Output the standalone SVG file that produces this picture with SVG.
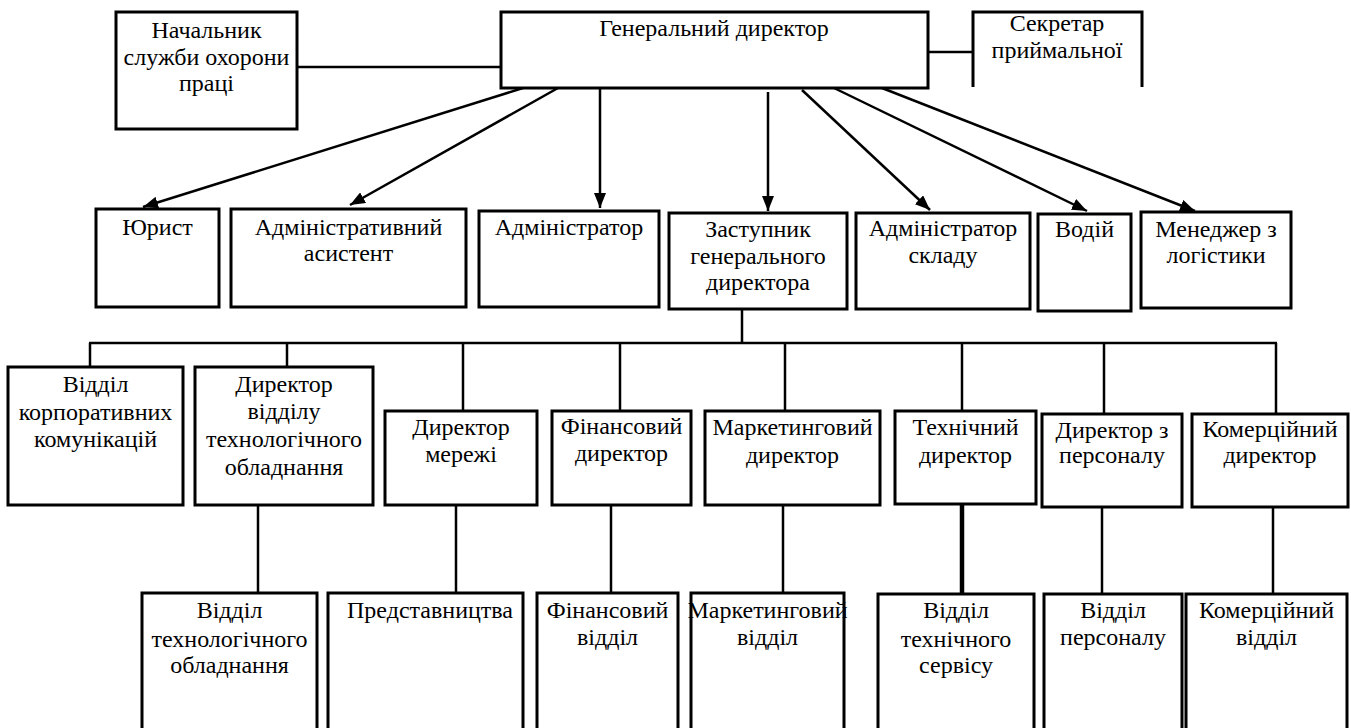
<svg xmlns="http://www.w3.org/2000/svg" width="1351" height="728" viewBox="0 0 1351 728">
<style>
.b{fill:#fff;stroke:#000;stroke-width:3}
.o{fill:none;stroke:#000;stroke-width:3}
.t{font-family:'Liberation Serif','Times New Roman',serif;font-size:24px;fill:#000;text-anchor:middle}
.c{stroke:#000;stroke-width:2.5;fill:none}
.a{stroke:#000;stroke-width:2.5;fill:none;marker-end:url(#ah)}
</style>
<defs>
<marker id="ah" markerUnits="userSpaceOnUse" markerWidth="15" markerHeight="12" refX="15" refY="6" orient="auto">
<path d="M0,0 L15,6 L0,12 z" fill="#000"/>
</marker>
</defs>
<rect width="1351" height="728" fill="#fff"/>
<g id="connectors">
<line class="c" x1="298" y1="67" x2="501" y2="67"/>
<line class="c" x1="928" y1="52" x2="973" y2="52"/>
<line class="a" x1="523" y1="88" x2="143" y2="207"/>
<line class="a" x1="558" y1="88" x2="350" y2="205"/>
<line class="a" x1="600" y1="88" x2="600" y2="208"/>
<line class="a" x1="768" y1="92" x2="768" y2="211"/>
<line class="a" x1="802" y1="90" x2="930" y2="210"/>
<line class="a" x1="834" y1="88" x2="1087" y2="211"/>
<line class="a" x1="882" y1="88" x2="1195" y2="211"/>
<line class="c" x1="742" y1="309" x2="742" y2="343"/>
<line class="c" x1="89" y1="343" x2="1277" y2="343"/>
<line class="c" x1="90" y1="343" x2="90" y2="367"/>
<line class="c" x1="287" y1="343" x2="287" y2="367"/>
<line class="c" x1="463" y1="343" x2="463" y2="411"/>
<line class="c" x1="620" y1="343" x2="620" y2="411"/>
<line class="c" x1="785" y1="343" x2="785" y2="411"/>
<line class="c" x1="962" y1="343" x2="962" y2="411"/>
<line class="c" x1="1104" y1="343" x2="1104" y2="414"/>
<line class="c" x1="1276" y1="343" x2="1276" y2="414"/>
<line class="c" x1="258" y1="505" x2="258" y2="593"/>
<line class="c" x1="456" y1="505" x2="456" y2="593"/>
<line class="c" x1="611" y1="505" x2="611" y2="593"/>
<line class="c" x1="783" y1="505" x2="783" y2="593"/>
<line class="c" stroke-width="4.5" style="stroke-width:4.5" x1="962" y1="504" x2="962" y2="594"/>
<line class="c" x1="1102" y1="505" x2="1102" y2="594"/>
<line class="c" x1="1273" y1="507" x2="1273" y2="594"/>
</g>
<g id="n-okhorona"><rect class="b" x="116" y="12" width="181" height="117"/>
<text class="t" x="206.5" y="38">Начальник</text><text class="t" x="206.5" y="65">служби охорони</text><text class="t" x="206.5" y="91">праці</text></g>
<g id="n-gendir"><rect class="b" x="501" y="12" width="427" height="76"/>
<text class="t" x="714" y="36">Генеральний директор</text></g>
<g id="n-sekretar"><path class="o" d="M973,87 V12 H1142 V87"/>
<text class="t" x="1057" y="31">Секретар</text><text class="t" x="1057" y="58">приймальної</text></g>
<g id="n-yurist"><rect class="b" x="96" y="209" width="123" height="98"/>
<text class="t" x="157.5" y="235">Юрист</text></g>
<g id="n-adm-asyst"><rect class="b" x="231" y="209" width="235" height="98"/>
<text class="t" x="348.5" y="235">Адміністративний</text><text class="t" x="348.5" y="261">асистент</text></g>
<g id="n-admin"><rect class="b" x="479" y="211" width="180" height="96"/>
<text class="t" x="569" y="235">Адміністратор</text></g>
<g id="n-zastupnyk"><rect class="b" x="669" y="213" width="178" height="96"/>
<text class="t" x="758" y="237">Заступник</text><text class="t" x="758" y="264">генерального</text><text class="t" x="758" y="290">директора</text></g>
<g id="n-adm-sklad"><rect class="b" x="856" y="213" width="174" height="96"/>
<text class="t" x="943" y="236">Адміністратор</text><text class="t" x="943" y="263">складу</text></g>
<g id="n-vodiy"><rect class="b" x="1038" y="214" width="93" height="97"/>
<text class="t" x="1084.5" y="237">Водій</text></g>
<g id="n-menedzher"><rect class="b" x="1141" y="212" width="150" height="96"/>
<text class="t" x="1216" y="237">Менеджер з</text><text class="t" x="1216" y="263">логістики</text></g>
<g id="n-korp"><rect class="b" x="8" y="367" width="175" height="138"/>
<text class="t" x="95.5" y="392">Відділ</text><text class="t" x="95.5" y="420">корпоративних</text><text class="t" x="95.5" y="447">комунікацій</text></g>
<g id="n-dir-tech-obl"><rect class="b" x="195" y="367" width="178" height="138"/>
<text class="t" x="284" y="392">Директор</text><text class="t" x="284" y="419">відділу</text><text class="t" x="284" y="447">технологічного</text><text class="t" x="284" y="475">обладнання</text></g>
<g id="n-dir-merezhi"><rect class="b" x="385" y="411" width="152" height="94"/>
<text class="t" x="461" y="435">Директор</text><text class="t" x="461" y="462">мережі</text></g>
<g id="n-fin-dir"><rect class="b" x="552" y="411" width="139" height="94"/>
<text class="t" x="621.5" y="434">Фінансовий</text><text class="t" x="621.5" y="461">директор</text></g>
<g id="n-mark-dir"><rect class="b" x="705" y="411" width="175" height="94"/>
<text class="t" x="792.5" y="435">Маркетинговий</text><text class="t" x="792.5" y="463">директор</text></g>
<g id="n-tekh-dir"><rect class="b" x="895" y="411" width="141" height="93"/>
<text class="t" x="965.5" y="435">Технічний</text><text class="t" x="965.5" y="463">директор</text></g>
<g id="n-dir-pers"><rect class="b" x="1042" y="414" width="140" height="93"/>
<text class="t" x="1112" y="438">Директор з</text><text class="t" x="1112" y="463">персоналу</text></g>
<g id="n-kom-dir"><rect class="b" x="1192" y="414" width="156" height="93"/>
<text class="t" x="1270" y="437">Комерційний</text><text class="t" x="1270" y="463">директор</text></g>
<g id="n-vid-tech-obl"><path class="o" d="M142,730 V593 H317 V730"/>
<text class="t" x="229.5" y="618">Відділ</text><text class="t" x="229.5" y="647">технологічного</text><text class="t" x="229.5" y="673">обладнання</text></g>
<g id="n-predst"><path class="o" d="M328,730 V593 H523 V730"/>
<text class="t" x="430" y="618">Представництва</text></g>
<g id="n-fin-vid"><path class="o" d="M537,730 V593 H678 V730"/>
<text class="t" x="607.5" y="618">Фінансовий</text><text class="t" x="607.5" y="645">відділ</text></g>
<g id="n-mark-vid"><path class="o" d="M691,730 V593 H844 V730"/>
<text class="t" x="767.5" y="618">Маркетинговий</text><text class="t" x="767.5" y="645">відділ</text></g>
<g id="n-tekh-serv"><path class="o" d="M878,730 V594 H1034 V730"/>
<text class="t" x="956" y="618">Відділ</text><text class="t" x="956" y="647">технічного</text><text class="t" x="956" y="673">сервісу</text></g>
<g id="n-vid-pers"><path class="o" d="M1044,730 V594 H1182 V730"/>
<text class="t" x="1113" y="618">Відділ</text><text class="t" x="1113" y="645">персоналу</text></g>
<g id="n-kom-vid"><path class="o" d="M1186,730 V594 H1347 V730"/>
<text class="t" x="1266.5" y="618">Комерційний</text><text class="t" x="1266.5" y="645">відділ</text></g>
</svg>
